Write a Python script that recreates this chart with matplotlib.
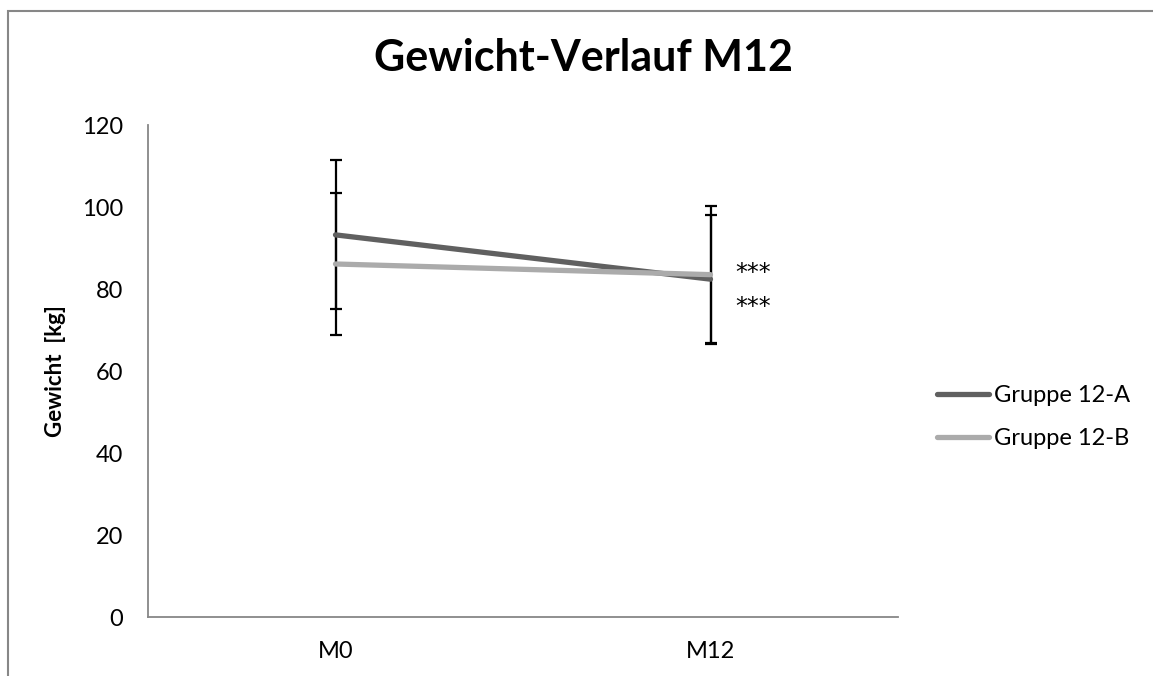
import matplotlib.pyplot as plt
from matplotlib.patches import Rectangle
import numpy as np

plt.rcParams['font.family'] = ['Lato', 'DejaVu Sans']

# data
categories = ['M0', 'M12']
gruppe_a = [93.2, 82.4]
gruppe_a_err = [18.2, 15.6]
gruppe_b = [86.1, 83.5]
gruppe_b_err = [17.3, 16.8]
labels = ['Gruppe 12-A', 'Gruppe 12-B']
stars = ['***', '***']
star_y = [84.6, 76.3]

x = np.arange(len(categories))

fig = plt.figure(figsize=(11.53, 6.76), dpi=100)
ax = fig.add_axes([148 / 1153, 1 - 617 / 676, 750 / 1153, 492 / 676])

# outer chart frame (runs off right/bottom edge like the original)
fig.add_artist(Rectangle((8 / 1153, -0.1), 1.2, 1 - 11 / 676 + 0.1,
                         transform=fig.transFigure, fill=False,
                         edgecolor='#878787', linewidth=1.5))

ax.errorbar(x, gruppe_a, yerr=gruppe_a_err, fmt='none', ecolor='black',
            elinewidth=1.6, capsize=4.3, capthick=1.6, zorder=2)
ax.errorbar(x, gruppe_b, yerr=gruppe_b_err, fmt='none', ecolor='black',
            elinewidth=1.6, capsize=4.3, capthick=1.6, zorder=2)
ax.plot(x, gruppe_a, color='#606060', linewidth=3.8, label=labels[0],
        solid_capstyle='round', zorder=3)
ax.plot(x, gruppe_b, color='#ababab', linewidth=3.8, label=labels[1],
        solid_capstyle='round', zorder=3)

for s, yv in zip(stars, star_y):
    ax.text(1.065, yv, s, fontsize=17, va='center_baseline', ha='left',
            family='DejaVu Sans')

ax.set_xlim(-0.5, 1.5)
ax.set_ylim(0, 120)
ax.set_yticks(np.arange(0, 121, 20))
ax.set_xticks(x)
ax.set_xticklabels(categories)
ax.tick_params(axis='both', length=0, labelsize=17)
ax.tick_params(axis='y', pad=18)
ax.tick_params(axis='x', pad=17)

for side in ['top', 'right']:
    ax.spines[side].set_visible(False)
for side in ['left', 'bottom']:
    ax.spines[side].set_color('#878787')
    ax.spines[side].set_linewidth(1.3)

fig.text(55 / 1153, 1 - 371 / 676, 'Gewicht  [kg]', fontsize=16,
         fontweight='bold', rotation=90, ha='center', va='center')

fig.text(583 / 1153, 1 - 58 / 676, 'Gewicht-Verlauf M12', fontsize=31,
         fontweight='bold', ha='center', va='center')

ax.legend(loc='center left', bbox_to_anchor=(937 / 1153, 1 - 417 / 676),
          bbox_transform=fig.transFigure, frameon=False, fontsize=17,
          handlelength=2.2, handletextpad=0.2, labelspacing=0.95,
          borderpad=0, borderaxespad=0)

fig.savefig('out.png', dpi=100)
